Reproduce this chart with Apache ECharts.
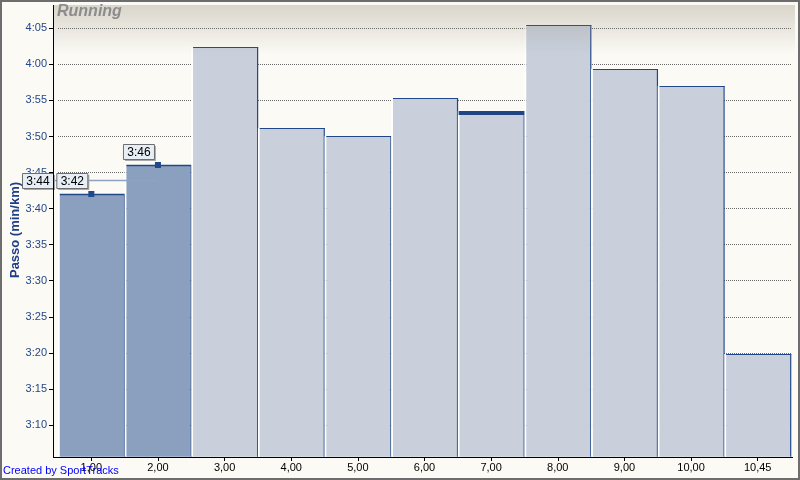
<!DOCTYPE html>
<html><head><meta charset="utf-8">
<script src="https://cdn.jsdelivr.net/npm/echarts@6/dist/echarts.min.js"></script>
<style>html,body{margin:0;padding:0;background:#fbfaf5}#c{width:800px;height:480px}</style>
</head><body><div id="c"></div>
<script>
// ---- data ----
const categories = ['1,00','2,00','3,00','4,00','5,00','6,00','7,00','8,00','9,00','10,00','10,45'];
const paceSeconds = [222, 226, 242.4, 231.2, 230.1, 235.4, 233.6, 245.4, 239.4, 237.0, 199.8];
const selectedIdx = [0, 1];
const hoverIdx = 6;
const yTickMin = 190, yTickMax = 245, yTickStep = 5;
const yBase = 185.6;   // value at which the x axis sits
const titleText = 'Running';
const yAxisTitle = 'Passo (min/km)';
const footerText = 'Created by SportTracks';

// ---- helpers ----
function fmt(s){ const m = Math.floor(s/60); const r = Math.round(s - m*60); return m + ':' + String(r).padStart(2,'0'); }
const FONT = '"Liberation Sans", Arial, sans-serif';
const avgSel = selectedIdx.reduce((a,i)=>a+paceSeconds[i],0)/selectedIdx.length;
const Y_OFFSET = 5;

function labelBox(rightX, bottomY, text){
  const w = 31, h = 15;
  const x = rightX - w, y = bottomY - h;
  return [
    {type:'rect', shape:{x:x+2, y:y+2, width:w, height:h}, style:{fill:'#a9a9a9'}},
    {type:'rect', shape:{x:x+0.5, y:y+0.5, width:w, height:h}, style:{fill:'#e7eef6', stroke:'#6e6e6e', lineWidth:1}},
    {type:'text', style:{text:text, x:x+w/2+0.5, y:y+h/2+1, fill:'#000', font:'12px '+FONT, align:'center', verticalAlign:'middle', textAlign:'center', textVerticalAlign:'middle'}}
  ];
}

function renderBar(params, api){
  const i = api.value(0), v = api.value(1);
  const top = api.coord([i, v]);
  const base = api.coord([i, yBase]);
  const w = api.size([1,0])[0];
  const cx = top[0];
  const sel = selectedIdx.indexOf(i) >= 0;
  const xl = cx - w*0.473, xr = cx + w*0.488;
  const t = Math.round(top[1]);
  const b = base[1];
  const stroke = '#20478a';
  const ch = [
    {type:'rect', shape:{x:xl - w*0.027, y:t, width:w*0.027, height:b-t}, style:{fill:'#ffffff'}},
    {type:'rect', shape:{x:xl, y:t, width:xr-xl, height:b-t}, style:{fill: sel ? '#8ba0be' : '#c9d0dc'}},
    {type:'line', shape:{x1:xr+(sel?1:0.5), y1:t, x2:xr+(sel?1:0.5), y2:b}, style:{stroke:stroke, lineWidth: sel?2:1.2}},
    {type:'line', shape:{x1:xl, y1:t+0.5, x2:xr+1, y2:t+0.5}, style:{stroke:stroke, lineWidth: sel?1.5:1.2}}
  ];
  if (i === hoverIdx) {
    ch.push({type:'line', shape:{x1:xl-1, y1:t+2, x2:xr+1.5, y2:t+2}, style:{stroke:'#1f4585', lineWidth:4}});
  }
  return {type:'group', children:ch};
}

function renderMarker(params, api){
  const i = api.value(0), v = api.value(1);
  const p = api.coord([i, v]);
  const cx = p[0], t = Math.round(p[1]);
  const ch = [{type:'rect', shape:{x:cx-3, y:t-3, width:6, height:6}, style:{fill:'#1f4a8a'}}];
  return {type:'group', children: ch.concat(labelBox(cx-4, t-6, fmt(v)))};
}

function renderAvg(params, api){
  const i = api.value(0), v = api.value(1);
  const p = api.coord([i, v]);
  const axisX = params.coordSys.x - Y_OFFSET;
  const y = Math.round(p[1]) + 0.5;
  const ch = [{type:'line', shape:{x1:axisX, y1:y, x2:p[0], y2:y}, style:{stroke:'#8ea2c2', lineWidth:1.5}}];
  return {type:'group', children: ch.concat(labelBox(axisX, y+7.5, fmt(v)))};
}

const chart = echarts.init(document.getElementById('c'), null, {renderer:'canvas'});
const barData = categories.map((c,i)=>[i, paceSeconds[i]]);
const selData = selectedIdx.map(i=>[i, paceSeconds[i]]);
const avgData = [[selectedIdx[selectedIdx.length-1], avgSel]];

chart.setOption({
  animation:false,
  backgroundColor:'#fbfaf5',
  grid:{left:58, right:9, top:28.3, bottom:55},
  xAxis:{
    type:'category', data:categories, offset:32,
    axisLine:{show:false},
    axisTick:{show:true, alignWithLabel:true, length:4, lineStyle:{color:'#000'}},
    axisLabel:{color:'#000', fontSize:11, fontFamily:FONT, margin:5, interval:0},
    splitLine:{show:false}
  },
  yAxis:{
    type:'value', min:yTickMin, max:yTickMax, interval:yTickStep, offset:Y_OFFSET,
    axisLine:{show:false},
    axisTick:{show:true, length:4, lineStyle:{color:'#000'}},
    axisLabel:{color:'#24468a', fontSize:11, fontFamily:FONT, margin:6, formatter:fmt},
    splitLine:{show:true, lineStyle:{color:'#6a6a6a', type:[1,1], width:1}}
  },
  graphic:[
    {type:'rect', z:100, silent:true, shape:{x:53, y:5, width:742, height:452},
      style:{fill:new echarts.graphic.LinearGradient(0,0,0,1,[
        {offset:0, color:'rgba(140,128,105,0.30)'},
        {offset:0.11, color:'rgba(140,128,105,0.0)'},
        {offset:1, color:'rgba(140,128,105,0.0)'}])}},
    {type:'line', z:110, silent:true, shape:{x1:53.5, y1:5, x2:53.5, y2:457}, style:{stroke:'#000', lineWidth:1}},
    {type:'line', z:110, silent:true, shape:{x1:53, y1:457.5, x2:793, y2:457.5}, style:{stroke:'#000', lineWidth:1}},
    {type:'text', z:110, silent:true, x:57, y:4, style:{text:titleText, font:'italic bold 16px '+FONT, fill:'#8c8c8c', textVerticalAlign:'top', verticalAlign:'top'}},
    {type:'text', z:110, silent:true, x:15, y:230, rotation:Math.PI/2, style:{text:yAxisTitle, font:'bold 13px '+FONT, fill:'#1f3e88', textAlign:'center', align:'center', textVerticalAlign:'middle', verticalAlign:'middle'}},
    {type:'text', z:110, silent:true, x:3, y:471, style:{text:footerText, font:'11px '+FONT, fill:'#0000ff', textVerticalAlign:'middle', verticalAlign:'middle'}},
    {type:'rect', z:120, silent:true, shape:{x:1, y:1, width:798, height:478}, style:{fill:'none', stroke:'#6d6d6d', lineWidth:2}}
  ],
  series:[
    {type:'custom', z:2, renderItem:renderBar, data:barData, encode:{x:0, y:1}, clip:false, silent:true},
    {type:'custom', z:4, renderItem:renderAvg, data:avgData, encode:{x:0, y:1}, clip:false, silent:true},
    {type:'custom', z:5, renderItem:renderMarker, data:selData, encode:{x:0, y:1}, clip:false, silent:true}
  ]
});
</script>
</body></html>
